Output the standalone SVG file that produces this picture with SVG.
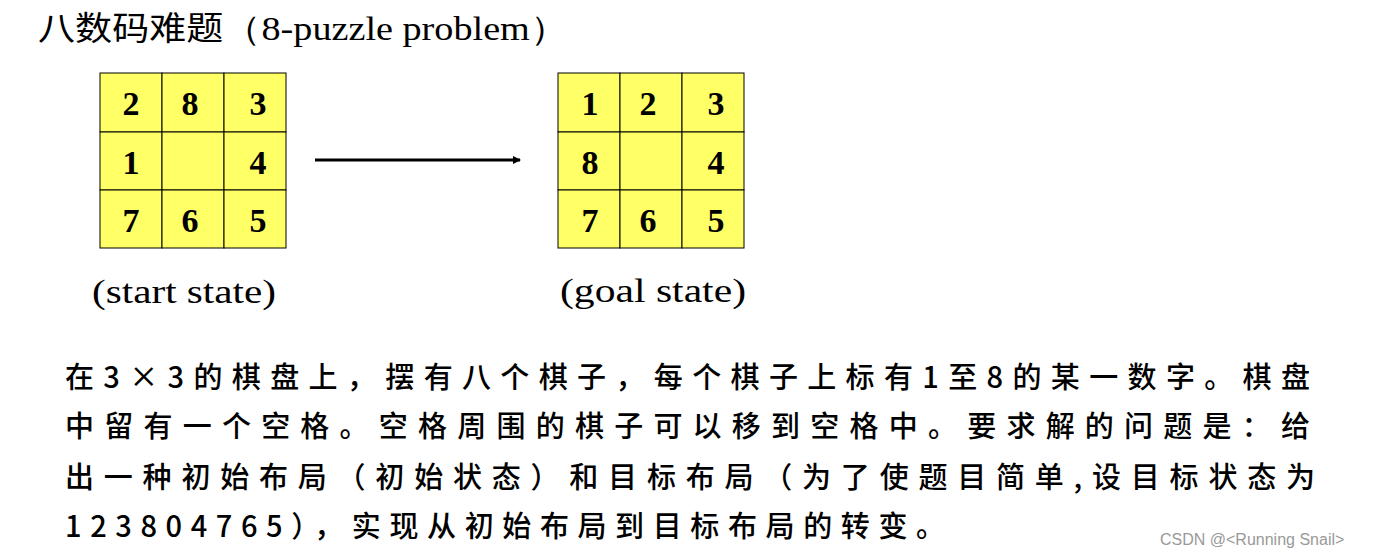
<svg xmlns="http://www.w3.org/2000/svg" width="1391" height="559" viewBox="0 0 1391 559">
<style>
.c{fill:#ffff66;stroke:#000;stroke-width:1}
.n{font-family:"Liberation Serif",serif;font-weight:bold;font-size:34px;text-anchor:middle}
.p{font-family:"Liberation Serif","Noto Sans CJK SC",serif;font-size:34px}
.z{font-family:"Noto Sans CJK SC",sans-serif;font-size:29px;font-weight:500;fill:#000}
</style>
<defs><marker id="a" markerWidth="8" markerHeight="8" refX="7" refY="4" orient="auto" markerUnits="userSpaceOnUse"><path d="M0,0L8,4L0,8z"/></marker></defs>
<rect width="1391" height="559" fill="#fff"/>
<text x="38" y="40" font-family="Noto Sans CJK SC,sans-serif" font-size="33" textLength="530" lengthAdjust="spacingAndGlyphs">八数码难题<tspan font-family="Liberation Serif,serif" font-size="34">（8-puzzle problem）</tspan></text>
<g id="start">
<rect class="c" x="100" y="73" width="62" height="59"/><rect class="c" x="162" y="73" width="62" height="59"/><rect class="c" x="224" y="73" width="62" height="59"/>
<rect class="c" x="100" y="132" width="62" height="58"/><rect class="c" x="162" y="132" width="62" height="58"/><rect class="c" x="224" y="132" width="62" height="58"/>
<rect class="c" x="100" y="190" width="62" height="58"/><rect class="c" x="162" y="190" width="62" height="58"/><rect class="c" x="224" y="190" width="62" height="58"/>
<text class="n" x="131" y="115">2</text><text class="n" x="190" y="115">8</text><text class="n" x="258" y="115">3</text>
<text class="n" x="131" y="174">1</text><text class="n" x="258" y="174">4</text>
<text class="n" x="131" y="232">7</text><text class="n" x="190" y="232">6</text><text class="n" x="258" y="232">5</text>
</g>
<g id="goal">
<rect class="c" x="558" y="73" width="62" height="59"/><rect class="c" x="620" y="73" width="62" height="59"/><rect class="c" x="682" y="73" width="62" height="59"/>
<rect class="c" x="558" y="132" width="62" height="58"/><rect class="c" x="620" y="132" width="62" height="58"/><rect class="c" x="682" y="132" width="62" height="58"/>
<rect class="c" x="558" y="190" width="62" height="58"/><rect class="c" x="620" y="190" width="62" height="58"/><rect class="c" x="682" y="190" width="62" height="58"/>
<text class="n" x="590" y="115">1</text><text class="n" x="648" y="115">2</text><text class="n" x="716" y="115">3</text>
<text class="n" x="590" y="174">8</text><text class="n" x="716" y="174">4</text>
<text class="n" x="590" y="232">7</text><text class="n" x="648" y="232">6</text><text class="n" x="716" y="232">5</text>
</g>
<g id="connectors"><line x1="315" y1="160" x2="520" y2="160" stroke="#000" stroke-width="3" marker-end="url(#a)"/></g>
<text class="p" x="92" y="303" textLength="184" lengthAdjust="spacingAndGlyphs">(start state)</text>
<text class="p" x="560" y="302" textLength="186" lengthAdjust="spacingAndGlyphs">(goal state)</text>
<text class="z" x="65" y="388" textLength="1245" lengthAdjust="spacing">在3×3的棋盘上，摆有八个棋子，每个棋子上标有1至8的某一数字。棋盘</text>
<text class="z" x="65" y="437" textLength="1245" lengthAdjust="spacing">中留有一个空格。空格周围的棋子可以移到空格中。要求解的问题是：给</text>
<text class="z" x="65" y="488" textLength="1250" lengthAdjust="spacing">出一种初始布局（初始状态）和目标布局（为了使题目简单,设目标状态为</text>
<text class="z" x="65" y="537" textLength="880" lengthAdjust="spacing">123804765），实现从初始布局到目标布局的转变。</text>
<text x="1160" y="545" font-family="Liberation Sans,sans-serif" font-size="16" fill="#999">CSDN @&lt;Running Snail&gt;</text>
</svg>
